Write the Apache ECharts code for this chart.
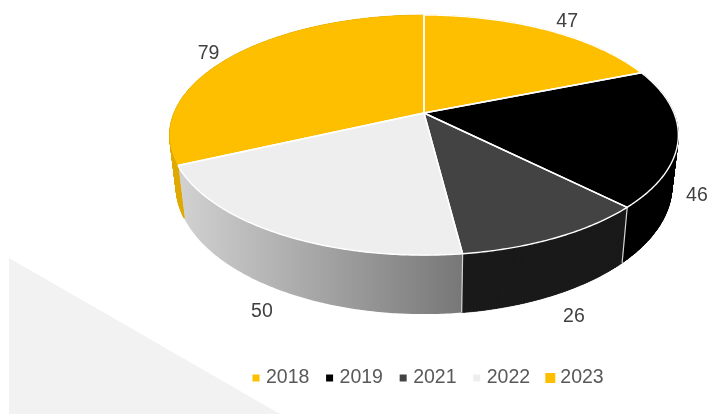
<!DOCTYPE html>
<html>
<head>
<meta charset="utf-8">
<style>html,body{margin:0;padding:0;background:#fff}#c{width:708px;height:414px}</style>
<script src="https://cdn.jsdelivr.net/npm/echarts@6/dist/echarts.min.js"></script>
</head>
<body>
<div id="c"></div>
<script>
var years = ['2018', '2019', '2021', '2022', '2023'];
var counts = [47, 46, 26, 50, 79];

var topColors = ['#fdbf00', '#000000', '#434343', '#eeeeee', '#fdbf00'];
var wallStops = [
  ['#e0a900', '#e0a900'],
  ['#000000', '#000000'],
  ['#1a1a1a', '#1a1a1a'],
  ['#d2d2d2', '#777777'],
  ['#e0a900', '#e0a900']
];
var edgeLines = [false, false, true, true, false];
var rimLines = [true, true, true, true, false];
var labelShift = [[21.5, -8.5], [18.6, 58], [18, 79], [-17.5, 78], [-24, -2.5]];
var smallIcon = 'path://M0 0L0 0M10 10L10 10M1.5 1.5H8.5V8.5H1.5Z';
var largeIcon = 'rect';

// Projection of the tilted disc
var CX = 424, CY = 113, RX = 250, RY = 116, K = 0.184;
var BOTTOM_CY = 162, BOTTOM_SX = 0.975, BOTTOM_SY = 1.07;
var FONT_SIZE = 19.5;
var FONT_FAMILY = '"Liberation Sans", Arial, sans-serif';

var total = counts.reduce(function (a, b) { return a + b; }, 0);

function angleAt(sum) { return sum / total * Math.PI * 2; }
function topPoint(a) {
  var u = Math.sin(a), v = Math.cos(a), d = 1 + K * v;
  return [CX + RX * u / d, CY - RY * v / d];
}
function bottomPoint(a) {
  var u = Math.sin(a), v = Math.cos(a), d = 1 + K * v;
  return [CX + BOTTOM_SX * RX * u / d, BOTTOM_CY - BOTTOM_SY * RY * v / d];
}
function arc(fn, a0, a1) {
  var n = Math.max(2, Math.ceil(Math.abs(a1 - a0) / 0.01)), pts = [];
  for (var i = 0; i <= n; i++) pts.push(fn(a0 + (a1 - a0) * i / n));
  return pts;
}

function makeRender(idx) {
  return function () {
    var before = 0;
    for (var i = 0; i < idx; i++) before += counts[i];
    var a0 = angleAt(before), a1 = angleAt(before + counts[idx]);
    var upper = arc(topPoint, a0, a1), lower = arc(bottomPoint, a0, a1);
    var face = [[CX, CY]].concat(upper);
    var anchor = topPoint((a0 + a1) / 2);
    var flat = wallStops[idx][0] === wallStops[idx][1];
    var children = [{
      type: 'polygon', z2: 1, silent: true,
      shape: { points: upper.concat(lower.slice().reverse()) },
      style: {
        fill: flat ? wallStops[idx][0] : {
          type: 'linear', x: 0, y: 0, x2: 1, y2: 0,
          colorStops: [
            { offset: 0, color: wallStops[idx][0] },
            { offset: 1, color: wallStops[idx][1] }
          ]
        }
      }
    }];

    if (flat) {
      // flat wall: triangles between the rims keep the side silhouette filled
      for (var s = 0; s < upper.length - 1; s++) {
        var pts = [
          [upper[s], upper[s + 1], lower[s]],
          [upper[s + 1], lower[s + 1], lower[s]]
        ];
        pts.forEach(function (tri) {
          children.push({
            type: 'polygon', z2: 1, silent: true,
            shape: { points: tri },
            style: { fill: wallStops[idx][0], stroke: wallStops[idx][0], lineWidth: 0.6 }
          });
        });
      }
    }
    if (edgeLines[idx]) {
      var p = topPoint(a0), q = bottomPoint(a0);
      children.push({
        type: 'line', z2: 5, silent: true,
        shape: { x1: p[0], y1: p[1], x2: q[0], y2: q[1] },
        style: { stroke: '#d4d4d4', lineWidth: 1.2 }
      });
    }
    children.push({
      type: 'polygon', z2: 10,
      shape: { points: face },
      style: { fill: topColors[idx] }
    });
    // white outline: radii always, outer rim only where it is visible against a wall
    var outline = rimLines[idx]
      ? [upper[upper.length - 1], [CX, CY], upper[0]].concat(upper.slice(1))
      : [upper[upper.length - 1], [CX, CY], upper[0]];
    children.push({
      type: 'polyline', z2: 11, silent: true,
      shape: { points: outline },
      style: { fill: null, stroke: '#ffffff', lineWidth: 1.4, lineJoin: 'round' }
    });
    children.push({
      type: 'text', z2: 20,
      style: {
        text: String(counts[idx]),
        x: anchor[0] + labelShift[idx][0],
        y: anchor[1] + labelShift[idx][1],
        fill: '#404040',
        font: FONT_SIZE + 'px ' + FONT_FAMILY,
        align: 'center', verticalAlign: 'middle'
      }
    });
    return { type: 'group', children: children };
  };
}

var chart = echarts.init(document.getElementById('c'), null, { renderer: 'canvas' });
chart.setOption({
  animation: false,
  backgroundColor: '#ffffff',
  graphic: [{
    type: 'polygon', silent: true, z: 0,
    shape: { points: [[9, 258], [280, 414], [9, 414]] },
    style: { fill: '#f2f2f2' }
  }],
  legend: {
    left: 251, top: 368, padding: 0,
    itemWidth: 10, itemHeight: 10, itemGap: 15.2, selectedMode: false,
    textStyle: { color: '#595959', fontSize: FONT_SIZE, fontFamily: FONT_FAMILY },
    itemStyle: { borderWidth: 0 },
    data: years.map(function (y, i) {
      return { name: y, icon: i === years.length - 1 ? largeIcon : smallIcon };
    })
  },
  series: years.map(function (y, i) {
    return {
      type: 'custom', name: y,
      coordinateSystem: 'none',
      itemStyle: { color: topColors[i] },
      data: [{ name: y, value: counts[i] }],
      renderItem: makeRender(i)
    };
  })
});
</script>
</body>
</html>
